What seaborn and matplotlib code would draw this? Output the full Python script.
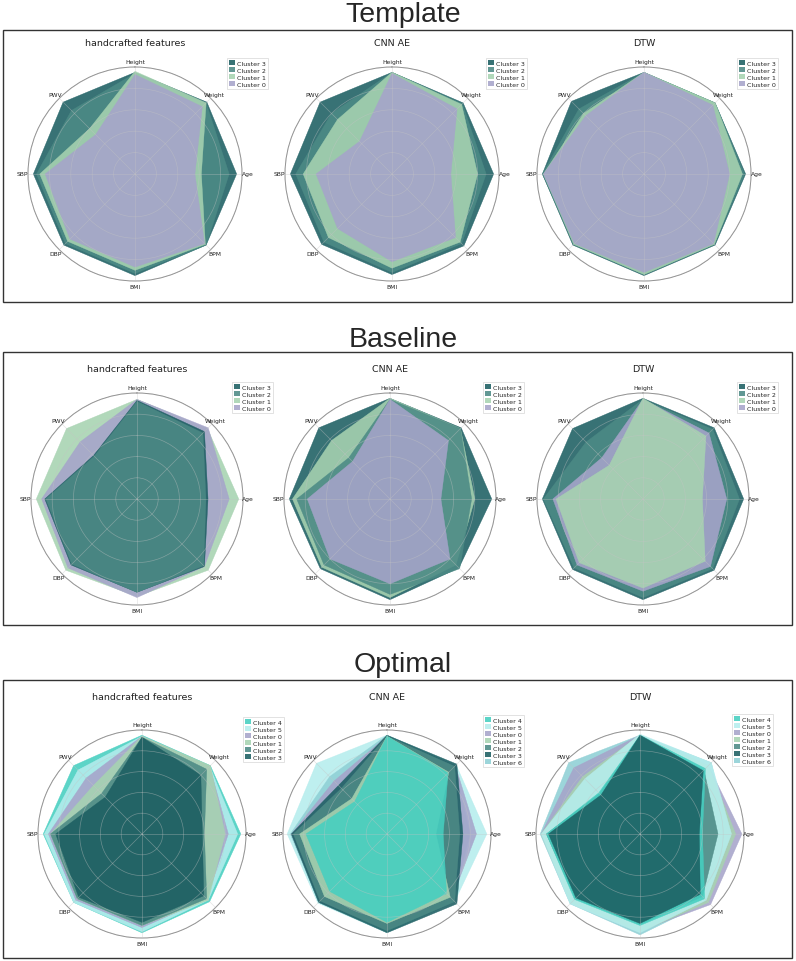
import numpy as np
import matplotlib
matplotlib.use("Agg")
import matplotlib.pyplot as plt
import seaborn as sns
from matplotlib.patches import Patch, Rectangle

sns.set_style("white")
plt.rcParams["font.family"] = ["DejaVu Sans"]
plt.rcParams["axes.axisbelow"] = "line"

# ---------------- data ----------------
CATEGORIES = ["Height", "Weight", "Age", "BPM", "BMI", "DBP", "SBP", "PWV"]

LEGEND_4 = ["Cluster 3", "Cluster 2", "Cluster 1", "Cluster 0"]
LEGEND_6 = ["Cluster 4", "Cluster 5", "Cluster 0", "Cluster 1", "Cluster 2", "Cluster 3"]
LEGEND_7 = ["Cluster 4", "Cluster 5", "Cluster 0", "Cluster 1", "Cluster 2", "Cluster 3", "Cluster 6"]

template_handcrafted = {
    "Cluster 3": [.95, .95, .95, .94, .95, .94, .95, .95],
    "Cluster 2": [.94, .94, .88, .94, .93, .92, .92, .84],
    "Cluster 1": [.96, .94, .62, .93, .90, .89, .89, .60],
    "Cluster 0": [.93, .89, .56, .92, .87, .86, .84, .52],
}
template_cnn = {
    "Cluster 3": [.95, .94, .95, .95, .94, .93, .95, .95],
    "Cluster 2": [.95, .93, .88, .92, .92, .90, .90, .80],
    "Cluster 1": [.95, .92, .80, .90, .88, .84, .83, .72],
    "Cluster 0": [.94, .86, .55, .84, .82, .72, .71, .43],
}
template_dtw = {
    "Cluster 3": [.95, .94, .95, .94, .95, .94, .95, .96],
    "Cluster 2": [.95, .94, .94, .93, .94, .93, .95, .86],
    "Cluster 1": [.95, .94, .92, .93, .94, .93, .94, .80],
    "Cluster 0": [.95, .91, .80, .92, .92, .92, .94, .77],
}
baseline_handcrafted = {
    "Cluster 3": [.93, .90, .67, .90, .88, .88, .87, .58],
    "Cluster 2": [.92, .88, .65, .89, .88, .87, .86, .57],
    "Cluster 1": [.94, .94, .96, .95, .92, .95, .95, .94],
    "Cluster 0": [.94, .95, .87, .90, .93, .92, .90, .76],
}
baseline_cnn = {
    "Cluster 3": [.95, .95, .96, .92, .95, .93, .95, .95],
    "Cluster 2": [.94, .94, .77, .93, .90, .88, .88, .55],
    "Cluster 1": [.95, .94, .80, .88, .93, .91, .92, .78],
    "Cluster 0": [.94, .78, .48, .80, .80, .80, .78, .50],
}
baseline_dtw = {
    "Cluster 3": [.95, .95, .95, .95, .95, .94, .95, .94],
    "Cluster 2": [.94, .93, .91, .93, .93, .92, .94, .76],
    "Cluster 1": [.95, .84, .56, .83, .84, .85, .82, .45],
    "Cluster 0": [.94, .88, .79, .90, .87, .88, .85, .55],
}
optimal_handcrafted = {
    "Cluster 4": [.95, .93, .95, .92, .95, .93, .95, .93],
    "Cluster 5": [.94, .92, .92, .90, .94, .93, .94, .87],
    "Cluster 0": [.94, .92, .83, .88, .90, .90, .90, .76],
    "Cluster 1": [.94, .93, .80, .90, .88, .88, .88, .66],
    "Cluster 2": [.93, .88, .60, .88, .88, .88, .88, .55],
    "Cluster 3": [.93, .80, .58, .84, .85, .86, .83, .50],
}
optimal_cnn = {
    "Cluster 4": [.94, .83, .54, .81, .85, .78, .78, .44],
    "Cluster 5": [.95, .94, .96, .92, .95, .94, .96, .96],
    "Cluster 0": [.94, .93, .86, .88, .92, .92, .92, .72],
    "Cluster 1": [.94, .84, .47, .86, .86, .85, .84, .48],
    "Cluster 2": [.94, .92, .70, .92, .93, .91, .90, .62],
    "Cluster 3": [.95, .95, .73, .95, .95, .93, .92, .66],
    "Cluster 6": [.95, .92, .80, .90, .93, .93, .93, .78],
}
optimal_dtw = {
    "Cluster 4": [.95, .89, .60, .88, .88, .89, .90, .56],
    "Cluster 5": [.96, .97, .88, .90, .95, .95, .95, .75],
    "Cluster 0": [.95, .93, .98, .96, .93, .93, .95, .90],
    "Cluster 1": [.95, .93, .92, .93, .94, .94, .95, .78],
    "Cluster 2": [.94, .87, .75, .85, .87, .88, .90, .55],
    "Cluster 3": [.95, .86, .57, .82, .86, .87, .88, .53],
    "Cluster 6": [.95, .97, .85, .92, .97, .95, .96, .97],
}

SECTION_TITLES = ["Template", "Baseline", "Optimal"]
PANEL_TITLES = ["handcrafted features", "CNN AE", "DTW"]

CLUSTER_NAMES = ["Cluster 0", "Cluster 1", "Cluster 2", "Cluster 3",
                 "Cluster 4", "Cluster 5", "Cluster 6"]
PALETTE = sns.color_palette(["#a6a4ca", "#a7d3b1", "#4c8a85", "#1c5e62",
                             "#45cfc0", "#b5eded", "#8fd0d5"])
COLORS = dict(zip(CLUSTER_NAMES, PALETTE))
ALPHA = 0.88

# ---------------- layout (pixels) ----------------
W, H = 796, 962
fig = plt.figure(figsize=(W / 100, H / 100), dpi=100)

rows = [
    dict(data=[template_handcrafted, template_cnn, template_dtw], legend=[LEGEND_4] * 3,
         cx=[135, 392, 644], cy=175, r=107, title_y=43, sec_base=22, box=(31, 303),
         leg=[(227, 59), (486, 59), (737, 59)]),
    dict(data=[baseline_handcrafted, baseline_cnn, baseline_dtw], legend=[LEGEND_4] * 3,
         cx=[137, 390, 643], cy=500, r=106, title_y=370, sec_base=347, box=(353, 626),
         leg=[(232, 383), (483, 383), (737, 383)]),
    dict(data=[optimal_handcrafted, optimal_cnn, optimal_dtw], legend=[LEGEND_6, LEGEND_7, LEGEND_7],
         cx=[142, 387, 640], cy=835, r=104, title_y=698, sec_base=672, box=(681, 959),
         leg=[(243, 718), (483, 716), (732, 715)]),
]

angles = np.linspace(0, 2 * np.pi, len(CATEGORIES), endpoint=False)


def poly_area(vals):
    v = np.asarray(vals)
    return 0.5 * np.sin(2 * np.pi / len(v)) * np.sum(v * np.roll(v, -1))


for ri, row in enumerate(rows):
    # section box and title
    y0, y1 = row["box"]
    fig.patches.append(Rectangle((3 / W, 1 - y1 / H), (792 - 3) / W, (y1 - y0) / H,
                                 transform=fig.transFigure, fill=False,
                                 edgecolor="#333333", linewidth=1.0))
    fig.text(403 / W, 1 - row["sec_base"] / H, SECTION_TITLES[ri], ha="center",
             va="baseline", fontsize=20.5, family=["Liberation Sans", "DejaVu Sans"])

    for ci in range(3):
        data = row["data"][ci]
        cx, cy, r = row["cx"][ci], row["cy"], row["r"]
        ax = fig.add_axes([(cx - r) / W, 1 - (cy + r) / H, 2 * r / W, 2 * r / H],
                          projection="polar")
        ax.set_axisbelow(False)
        ax.set_theta_offset(np.pi / 2)
        ax.set_theta_direction(-1)
        order = sorted(data.keys(), key=lambda k: -poly_area(data[k]))
        for name in order:
            v = np.asarray(data[name])
            th = np.append(angles, angles[0])
            vv = np.append(v, v[0])
            ax.fill(th, vv, color=COLORS[name], alpha=ALPHA, linewidth=0.3,
                    edgecolor=COLORS[name], zorder=1)
        ax.set_ylim(0, 1.0)
        ax.set_yticks([0.2, 0.4, 0.6, 0.8, 1.0])
        ax.set_yticklabels([])
        ax.set_xticks(angles)
        ax.set_xticklabels([])
        ax.tick_params(axis="x", length=0, pad=0)
        for ang, lab in zip(angles, CATEGORIES):
            ax.text(ang, 1.05, lab, ha="center", va="center", fontsize=4.3,
                    color="#222222", zorder=5, clip_on=False)
        ax.grid(True, color="#c4c4c4", linewidth=0.5, alpha=0.45)
        ax.spines["polar"].set_color("#8a8a8a")
        ax.spines["polar"].set_linewidth(0.7)
        ax.set_facecolor("white")

        fig.text(cx / W, 1 - row["title_y"] / H, PANEL_TITLES[ci], ha="center",
                 va="center", fontsize=6.8, color="#222222")

        labels = row["legend"][ci]
        handles = [Patch(facecolor=COLORS[n], alpha=ALPHA, edgecolor="none") for n in labels]
        lx, ly = row["leg"][ci]
        leg = ax.legend(handles, labels, loc="upper left",
                        bbox_to_anchor=(lx / W, 1 - ly / H), bbox_transform=fig.transFigure,
                        fontsize=4.6, labelspacing=0.18, handlelength=0.9, handleheight=0.9,
                        handletextpad=0.4, borderpad=0.3, borderaxespad=0, frameon=True,
                        fancybox=False, edgecolor="#cccccc")
        leg.get_frame().set_linewidth(0.5)

fig.savefig("out.png", dpi=100, facecolor="white")
